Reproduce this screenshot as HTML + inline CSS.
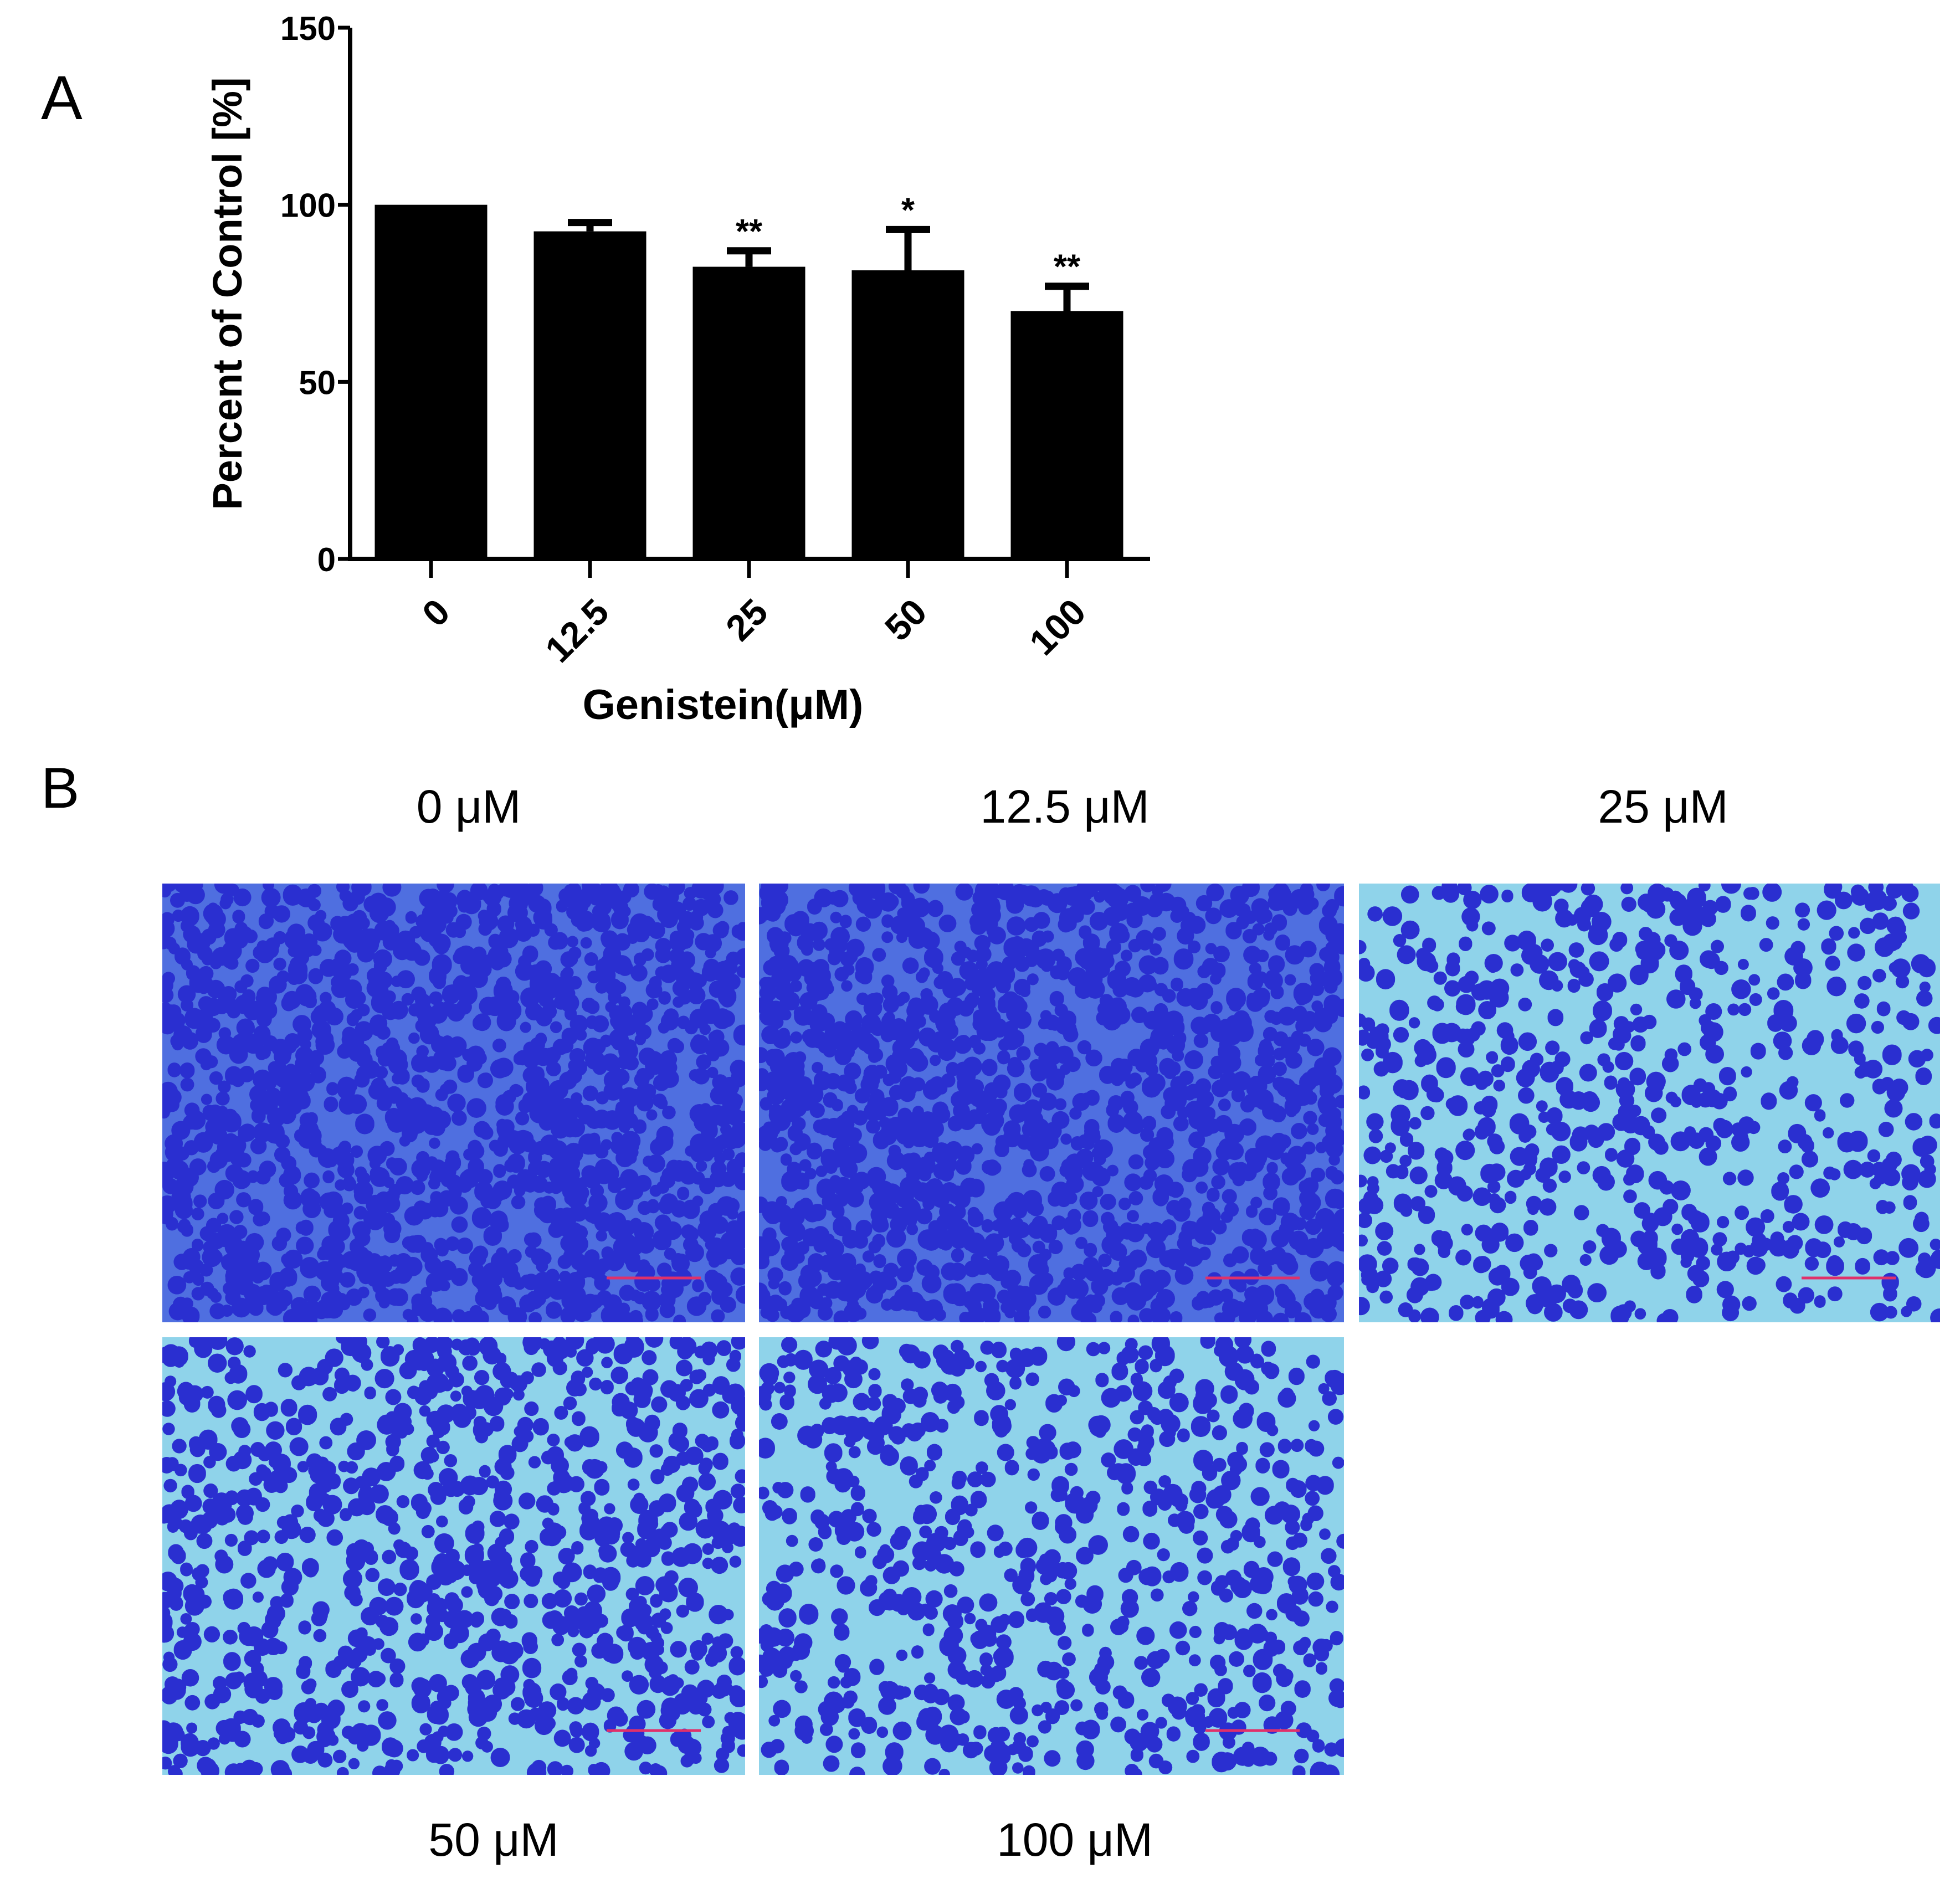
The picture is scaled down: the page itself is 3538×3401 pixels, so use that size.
<!DOCTYPE html>
<html><head><meta charset="utf-8"><style>
body{margin:0;background:#fff}
svg{display:block;font-family:"Liberation Sans",Arial,sans-serif}
</style></head><body>
<svg id="fig" width="3538" height="3401" viewBox="0 0 3538 3401" xmlns="http://www.w3.org/2000/svg">
<defs id="defs"></defs>
<text x="74" y="215" font-size="112">A</text>
<g id="chart"></g>
<text x="74" y="1458" font-size="104">B</text>
<g id="micro"></g>
</svg>
<script>
const categories=["0","12.5","25","50","100"];
const values=[100,92.5,82.5,81.5,70];
const errors=[0,2.5,4.5,11.5,7];
const stars=["","","**","*","**"];
const yTicks=[0,50,100,150];
const NS="http://www.w3.org/2000/svg";
function mk(tag,attrs,parent){const e=document.createElementNS(NS,tag);for(const k in attrs)e.setAttribute(k,attrs[k]);parent.appendChild(e);return e;}
const chart=document.getElementById('chart');
const x0=632,x1=2076,yTop=50,yBot=1009,ymax=150;
const y=v=>yBot-(v/ymax)*(yBot-yTop);
const cx=i=>778+i*287;
const bw=203;
let e;
e=mk('line',{x1:x0,y1:yTop,x2:x0,y2:yBot+4,stroke:'#000','stroke-width':8},chart);


e=mk('line',{x1:x0,y1:yBot,x2:x1,y2:yBot,stroke:'#000','stroke-width':8},chart);


yTicks.forEach(t=>{
 e=mk('line',{x1:x0-22,y1:y(t),x2:x0,y2:y(t),stroke:'#000','stroke-width':7},chart);
 
 
 e=mk('text',{x:x0-26,y:y(t)+22,'font-size':60,'font-weight':'bold','text-anchor':'end'},chart);
 e.textContent=t;
 
 
});
categories.forEach((c,i)=>{
 const xc=cx(i);
 e=mk('rect',{x:xc-bw/2,y:y(values[i]),width:bw,height:yBot-y(values[i]),fill:'#000'},chart);
 
 
 if(errors[i]>0){
  const ye=y(values[i]+errors[i]);
  e=mk('path',{d:`M${xc},${y(values[i])}V${ye}M${xc-40},${ye}H${xc+40}`,stroke:'#000','stroke-width':13,fill:'none'},chart);
  
  
 }
 if(stars[i]){
  e=mk('text',{x:xc,y:y(values[i]+errors[i])-14,'font-size':62,'font-weight':'bold','text-anchor':'middle'},chart);
  e.textContent=stars[i];
  
  
 }
 e=mk('line',{x1:xc,y1:yBot,x2:xc,y2:yBot+34,stroke:'#000','stroke-width':7},chart);
 
 
 e=mk('text',{x:0,y:0,'font-size':66,'font-weight':'bold','text-anchor':'end',transform:`translate(${xc+38},${yBot+100}) rotate(-45)`},chart);
 e.textContent=c;
 
 
});
e=mk('text',{x:0,y:0,'font-size':74,'font-weight':'bold','text-anchor':'middle',transform:`translate(436,530) rotate(-90)`},chart);
e.textContent='Percent of Control [%]';


e=mk('text',{x:1305,y:1298,'font-size':76,'font-weight':'bold','text-anchor':'middle'},chart);
e.textContent='Genistein(μM)';



// micrographs
const micro=document.getElementById('micro');
const defs=document.getElementById('defs');
let seed=12345;
const rnd=()=>{seed=(seed*1103515245+12345)%2147483648;return seed/2147483648;};
const panels=[
 {n:'0 μM',x:293,y:1595,w:1052,h:792,d:1.3,bg:'#4f6fe0',lx:846,ly:1485},
 {n:'12.5 μM',x:1370,y:1595,w:1056,h:792,d:1.2,bg:'#4f6fe0',lx:1922,ly:1485},
 {n:'25 μM',x:2453,y:1595,w:1049,h:792,d:0.55,bg:'#8fd3ea',lx:3002,ly:1485},
 {n:'50 μM',x:293,y:2414,w:1052,h:790,d:0.8,bg:'#8fd3ea',lx:891,ly:3350},
 {n:'100 μM',x:1370,y:2414,w:1056,h:790,d:0.6,bg:'#8fd3ea',lx:1940,ly:3350}
];
panels.forEach((p,k)=>{
 const cp=mk('clipPath',{id:'cp'+k},defs);
 mk('rect',{x:p.x,y:p.y,width:p.w,height:p.h},cp);
 const g=mk('g',{'clip-path':`url(#cp${k})`},micro);
 
 
 mk('rect',{x:p.x,y:p.y,width:p.w,height:p.h,fill:p.bg},g);
 const n=Math.round(p.w*p.h/700*p.d);
 let s='';
 for(let i=0;i<n;i++){
  const px=p.x+rnd()*p.w, py=p.y+rnd()*p.h, r=10+rnd()*8;
  s+=`M${(px-r).toFixed(1)},${py.toFixed(1)}a${r.toFixed(1)},${r.toFixed(1)} 0 1,0 ${(2*r).toFixed(1)},0a${r.toFixed(1)},${r.toFixed(1)} 0 1,0 ${(-2*r).toFixed(1)},0`;
 }
 mk('path',{d:s,fill:'#2a2fd0'},g);
 mk('line',{x1:p.x+p.w-250,y1:p.y+p.h-80,x2:p.x+p.w-80,y2:p.y+p.h-80,stroke:'#e0306a','stroke-width':5},g);
 const t=mk('text',{x:p.lx,y:p.ly,'font-size':84,'text-anchor':'middle'},micro);
 t.textContent=p.n;
 
 
});
</script>
</body></html>
